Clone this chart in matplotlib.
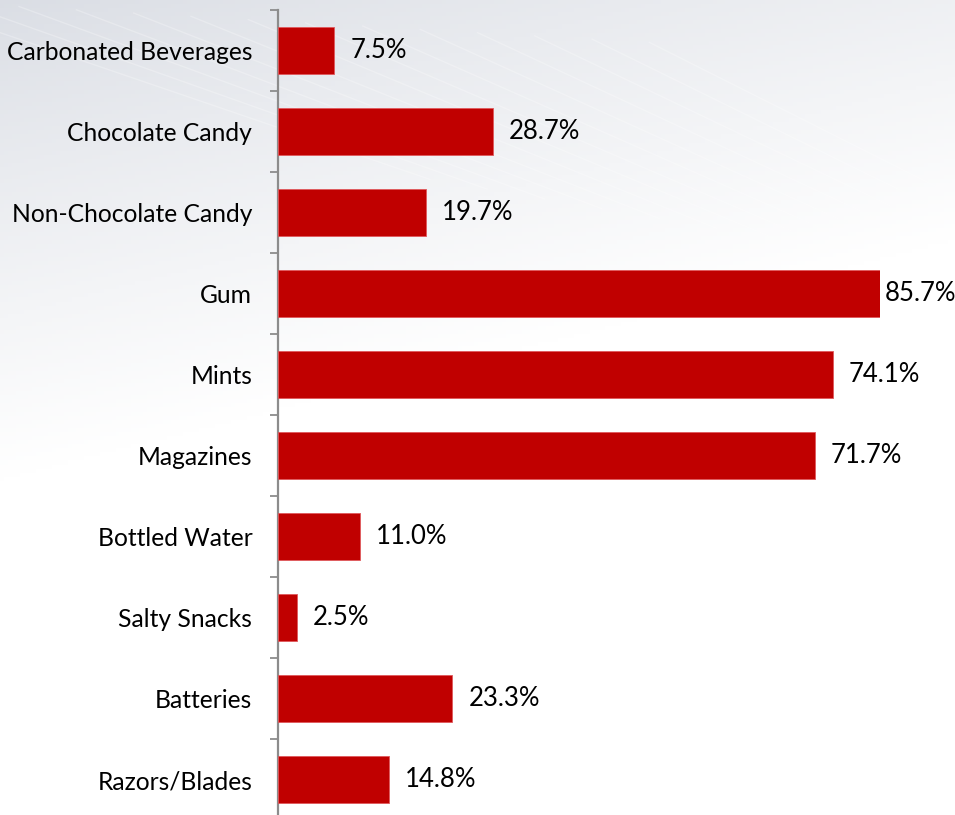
import numpy as np
import matplotlib.pyplot as plt

# data (top to bottom as shown)
categories = ['Carbonated Beverages', 'Chocolate Candy', 'Non-Chocolate Candy', 'Gum',
              'Mints', 'Magazines', 'Bottled Water', 'Salty Snacks', 'Batteries',
              'Razors/Blades']
values = [7.5, 28.7, 19.7, 85.7, 74.1, 71.7, 11.0, 2.5, 23.3, 14.8]
labels = ['7.5%', '28.7%', '19.7%', '85.7%', '74.1%', '71.7%', '11.0%', '2.5%',
          '23.3%', '14.8%']

plt.rcParams['font.family'] = ['Lato', 'DejaVu Sans']

W, H, DPI = 955, 815, 100
fig = plt.figure(figsize=(W / DPI, H / DPI), dpi=DPI)

# soft grey-to-white background with faint streaks
bg = fig.add_axes([0, 0, 1, 1], zorder=-10)
gx, gy = np.meshgrid(np.linspace(0, 1, 240), np.linspace(0, 1, 200))
t = np.clip(gy * 1.7 + gx * 0.5, 0, 1) ** 0.85
top = np.array([0.855, 0.868, 0.895])
img = top[None, None, :] + (1 - top[None, None, :]) * t[..., None]
bg.imshow(img, extent=[0, 1, 1, 0], aspect='auto')
for k in range(14):
    x0 = -0.1 + k * 0.06
    bg.plot([x0, x0 + 0.55], [0.0 + k * 0.004, 0.22 + k * 0.012], color='white',
            lw=1.0, alpha=0.25)
bg.set_xlim(0, 1)
bg.set_ylim(1, 0)
bg.axis('off')

# main chart axes
x_left, x_right = 278, 880
y_top, y_bot = 10, 820
ax = fig.add_axes([x_left / W, (H - y_bot) / H, (x_right - x_left) / W, (y_bot - y_top) / H])
ax.set_facecolor('none')

y = np.arange(len(categories))
ax.barh(y, values, height=0.59, color='#C00000', edgecolor='#e0585c', linewidth=0.6,
        zorder=3)

xmax = 80.4
ax.set_xlim(0, xmax)
ax.set_ylim(len(categories) - 0.5, -0.5)

for yi, v, lab in zip(y, values, labels):
    if v > xmax:
        ax.annotate(lab, (xmax, yi), xytext=(3.5, 0), textcoords='offset points',
                    va='center', ha='left', fontsize=18.5, color='black',
                    annotation_clip=False)
    else:
        ax.annotate(lab, (v, yi), xytext=(11.5, 0), textcoords='offset points',
                    va='center', ha='left', fontsize=18.5, color='black')

ax.set_yticks(y)
ax.set_yticklabels(categories, fontsize=17.7)
ax.tick_params(axis='y', which='major', length=0, pad=18.5)
ax.set_yticks(np.arange(len(categories) + 1) - 0.5, minor=True)
ax.tick_params(axis='y', which='minor', length=6, width=1.3, color='#8c8c8c',
               direction='out')
ax.set_xticks([])

for side in ['top', 'right', 'bottom']:
    ax.spines[side].set_visible(False)
ax.spines['left'].set_color('#8c8c8c')
ax.spines['left'].set_linewidth(1.6)

fig.savefig('out.png', dpi=DPI)
